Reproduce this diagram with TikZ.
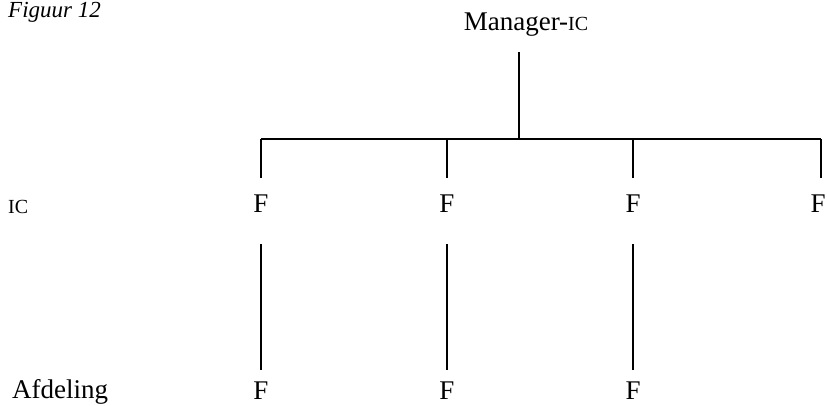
\documentclass[tikz,border=0pt]{standalone}
\usepackage{fontspec}
\setmainfont{Liberation Serif}
\newcommand{\smc}[1]{{\fontsize{20}{22}\selectfont #1}}
\begin{document}
\begin{tikzpicture}[x=1pt,y=-1pt,
  lbl/.style={inner sep=0pt,anchor=base,font=\fontsize{27}{30}\selectfont},
  lblw/.style={inner sep=0pt,anchor=base west,font=\fontsize{27}{30}\selectfont},
  conn/.style={line width=1.5pt,black}]
\useasboundingbox (0,0) rectangle (827,405);
% title
\node[inner sep=0pt,anchor=base west,font=\fontsize{23}{26}\selectfont\itshape] (title) at (8,17) {Figuur 12};
% top node
\node[lbl] (mgr) at (526,30) {Manager-\smc{IC}};
% row labels
\node[lblw] (ic) at (8,213) {\smc{IC}};
\node[lblw] (afd) at (12,398) {Afdeling};
% F nodes
\node[lbl] (f1) at (261,212) {F};
\node[lbl] (f2) at (447,212) {F};
\node[lbl] (f3) at (633,212) {F};
\node[lbl] (f4) at (818,212) {F};
\node[lbl] (g1) at (261,399) {F};
\node[lbl] (g2) at (447,399) {F};
\node[lbl] (g3) at (633,399) {F};
% connector points
\coordinate (mtop) at (519,52);
\coordinate (mbus) at (519,139);
\coordinate (b1) at (261,139);
\coordinate (b4) at (821,139);
\coordinate (b2) at (447,139);
\coordinate (b3) at (633,139);
\coordinate (d1) at (261,178);
\coordinate (d2) at (447,178);
\coordinate (d3) at (633,178);
\coordinate (d4) at (821,178);
\coordinate (u1) at (261,244);
\coordinate (u2) at (447,244);
\coordinate (u3) at (633,244);
\coordinate (l1) at (261,370);
\coordinate (l2) at (447,370);
\coordinate (l3) at (633,370);
% connectors
\draw[conn] (mtop) -- (mbus);
\draw[conn] (b1) -- (b4);
\draw[conn] (b1) -- (d1);
\draw[conn] (b2) -- (d2);
\draw[conn] (b3) -- (d3);
\draw[conn] (b4) -- (d4);
\draw[conn] (u1) -- (l1);
\draw[conn] (u2) -- (l2);
\draw[conn] (u3) -- (l3);
\end{tikzpicture}
\end{document}
